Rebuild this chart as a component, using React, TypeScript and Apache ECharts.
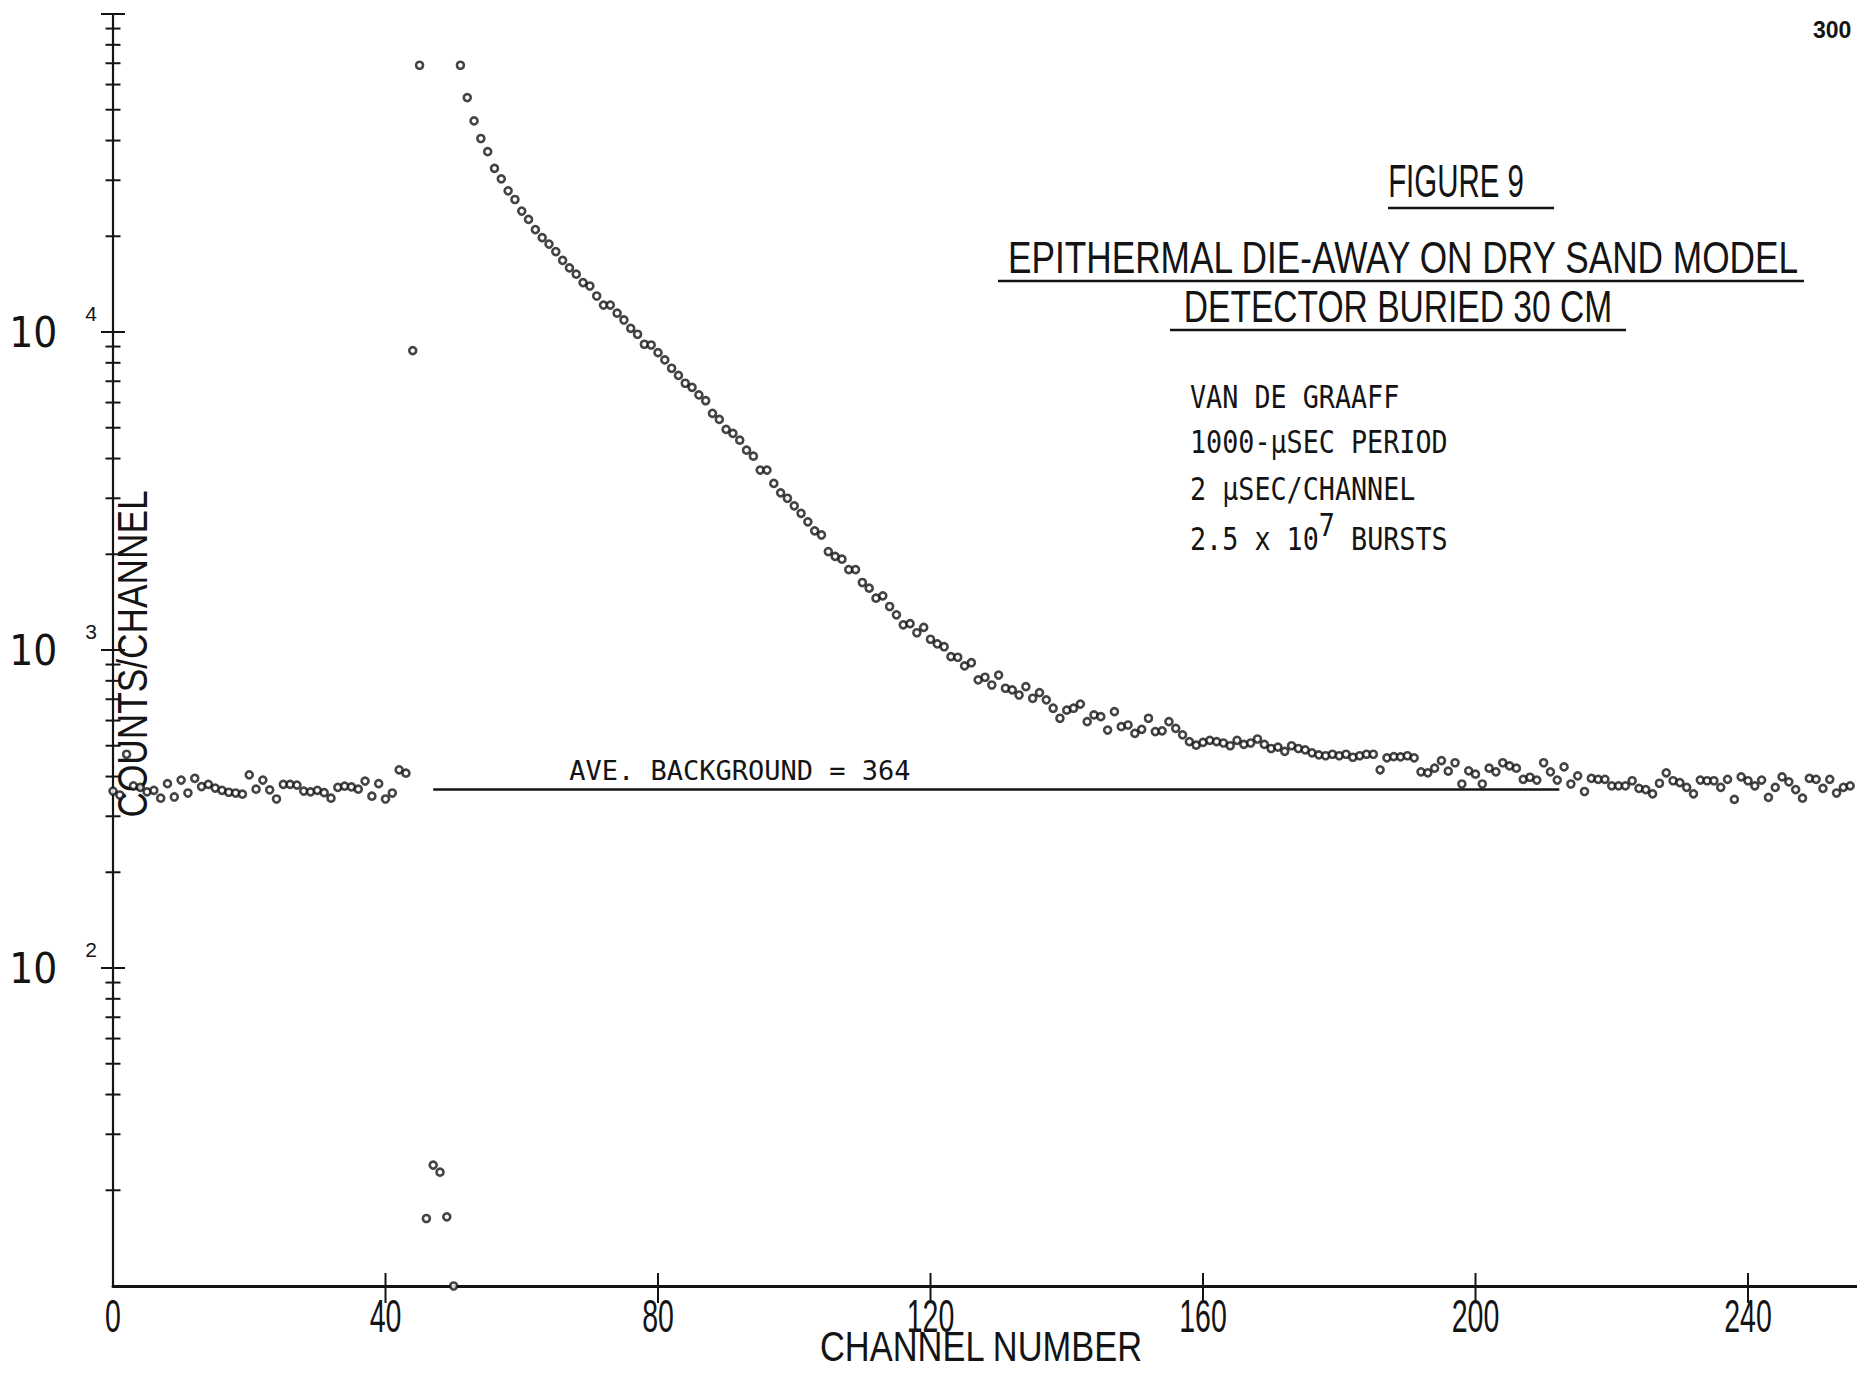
import React, { useEffect, useRef } from "react";
import * as echarts from "echarts";

// Counts per channel, channels 0-43 (background before the burst)
const PRE_BURST = [
  360, 350, 470, 374, 370, 358, 362, 342, 380, 345, 390, 355, 395, 372, 378, 368,
  362, 357, 355, 352, 405, 365, 390, 363, 340, 378, 378, 376, 360, 358, 362, 356,
  342, 370, 373, 371, 365, 387, 347, 380, 340, 355, 420, 410,
];
// Channels 44-51 (burst)
const BURST = [8740, 69000, 16.3, 24, 22.8, 16.5, 10, 69000];
// Channels 52-159 (epithermal die-away)
const DECAY = [
  54600, 46100, 40600, 36900, 32700, 30300, 27800, 26100,
  24000, 22600, 21000, 19800, 18900, 17900, 16800, 15900, 15200, 14300,
  13950, 12980, 12150, 12150, 11460, 10910, 10270, 9840, 9150, 9100,
  8610, 8170, 7690, 7300, 6900, 6700, 6340, 6080, 5550, 5310,
  4940, 4800, 4570, 4250, 4070, 3680, 3680, 3340, 3120, 3000,
  2840, 2690, 2530, 2370, 2300, 2040, 1970, 1930, 1790, 1790,
  1630, 1565, 1455, 1480, 1370, 1290, 1200, 1210, 1133, 1178,
  1081, 1045, 1024, 953, 949, 891, 912, 805, 821, 776,
  834, 758, 749, 722, 767, 705, 734, 697, 656, 610,
  647, 656, 676, 595, 625, 617, 560, 640, 574, 581,
  547, 563, 610, 554, 557, 595, 567, 541, 515, 502,
];
// Channels 160-188
const TAIL_A = [
  512, 520, 515, 510, 500, 520, 505, 510, 525, 505,
  490, 495, 480, 500, 490, 485, 475, 468, 465, 470,
  465, 470, 460, 465, 470, 470, 420, 458, 462,
];
// Channels 189-255
const TAIL_B = [
  461, 465, 458, 414, 411, 425, 449, 416, 442, 379,
  417, 407, 379, 425, 414, 442, 432, 425, 392, 398,
  390, 442, 414, 390, 429, 379, 402, 359, 395, 392,
  392, 374, 374, 374, 388, 367, 364, 353, 381, 411,
  388, 383, 370, 353, 390, 388, 388, 370, 392, 339,
  399, 388, 374, 390, 344, 370, 399, 385, 364, 342,
  395, 392, 367, 392, 355, 370, 374,
];
const COUNTS = [...PRE_BURST, ...BURST, ...DECAY, ...TAIL_A, ...TAIL_B];

const BACKGROUND = 364;
const BACKGROUND_FROM = 47;
const BACKGROUND_TO = 212.3;

const X_LABELS = [0, 40, 80, 120, 160, 200, 240];
const Y_MAJOR = [100, 1000, 10000, 100000];
const Y_DECADE_STARTS = [10, 100, 1000, 10000];
const Y_MINOR_STEPS = [2, 3, 4, 5, 6, 7, 8, 9];
const Y_LABELED = [100, 1000, 10000];

const TITLE = "FIGURE 9";
const SUBTITLE_1 = "EPITHERMAL DIE-AWAY ON DRY SAND MODEL";
const SUBTITLE_2 = "DETECTOR BURIED 30 CM";
const NOTES = ["VAN DE GRAAFF", "1000-\u00b5SEC PERIOD", "2 \u00b5SEC/CHANNEL"];
const PAGE_MARK = "300";

const INK = "#141414";
const NARROW = "'Liberation Sans Narrow', 'DejaVu Sans Condensed', 'Liberation Sans', sans-serif";
const SANS = "'Liberation Sans', Arial, sans-serif";
const MONO = "'DejaVu Sans Mono', 'Liberation Mono', monospace";

export default function App() {
  const ref = useRef<HTMLDivElement>(null);

  useEffect(() => {
    if (!ref.current) return;
    const chart = echarts.init(ref.current, undefined, { renderer: "svg" });

    const points = COUNTS.map((v, ch) => [ch, v]);

    // kind 0 = x tick with its label, 1 = major y tick, 2 = minor y tick
    const ticks: number[][] = [
      ...X_LABELS.map((c) => [c, 10, 0]),
      ...Y_MAJOR.map((v) => [0, v, 1]),
      ...Y_DECADE_STARTS.flatMap((d) => Y_MINOR_STEPS.map((k) => [0, k * d, 2])),
    ];

    const textStyle = (
      text: string,
      x: number,
      y: number,
      size: number,
      scaleX: number,
      font = SANS,
      align = "center"
    ) => ({
      type: "text",
      x,
      y,
      scaleX,
      silent: true,
      style: {
        text,
        fill: INK,
        font: `${size}px ${font}`,
        textAlign: align,
        textVerticalAlign: "middle",
      },
    });

    const rule = (x1: number, x2: number, y: number) => ({
      type: "line",
      silent: true,
      shape: { x1, y1: y, x2, y2: y },
      style: { stroke: INK, lineWidth: 2.5 },
    });

    chart.setOption({
      animation: false,
      backgroundColor: "#ffffff",
      grid: { left: 113, top: 14, right: -4, bottom: 87 },
      xAxis: {
        type: "value",
        min: 0,
        max: 256,
        interval: 40,
        axisLine: { show: true, lineStyle: { color: INK, width: 3 } },
        axisTick: { show: false },
        splitLine: { show: false },
        axisLabel: { show: false },
      },
      yAxis: {
        type: "log",
        logBase: 10,
        min: 10,
        max: 100000,
        splitNumber: 4,
        axisLine: { show: true, lineStyle: { color: INK, width: 2.2 } },
        axisTick: { show: false },
        splitLine: { show: false },
        axisLabel: {
          margin: 16,
          color: INK,
          formatter: (v: number) =>
            Y_LABELED.includes(Math.round(v))
              ? `{b|10}{e|${Math.round(Math.log10(v))}}`
              : "",
          rich: {
            b: { fontFamily: NARROW, fontSize: 42, color: INK },
            e: { fontFamily: SANS, fontSize: 21, color: INK, padding: [0, 0, 38, 28] },
          },
        },
      },
      series: [
        {
          type: "custom",
          silent: true,
          clip: false,
          z: 1,
          data: ticks,
          renderItem: (_params: any, api: any) => {
            const kind = api.value(2);
            const value = api.value(0);
            const p = api.coord([value, api.value(1)]);
            const style = { stroke: INK, lineWidth: 2 };
            if (kind === 0) {
              const children: any[] = [
                {
                  type: "text",
                  x: p[0],
                  y: p[1] + 30,
                  scaleX: 0.62,
                  style: {
                    text: String(value),
                    fill: INK,
                    font: `46px ${SANS}`,
                    textAlign: "center",
                    textVerticalAlign: "middle",
                    align: "center",
                    verticalAlign: "middle",
                  },
                },
              ];
              if (value > 0) {
                children.push({
                  type: "line",
                  shape: { x1: p[0], y1: p[1] - 13, x2: p[0], y2: p[1] + 17 },
                  style,
                });
              }
              return { type: "group", children };
            }
            const len = kind === 1 ? 12 : 7.5;
            return {
              type: "line",
              shape: { x1: p[0] - len, y1: p[1], x2: p[0] + len, y2: p[1] },
              style,
            };
          },
        },
        {
          type: "scatter",
          z: 3,
          clip: false,
          symbol: "circle",
          symbolSize: 7,
          itemStyle: { color: "#ffffff", borderColor: INK, borderWidth: 2.6 },
          data: points,
          markLine: {
            silent: true,
            symbol: "none",
            lineStyle: { color: INK, width: 2.5, type: "solid" },
            label: {
              show: true,
              position: "insideStartTop",
              distance: [136, 6],
              color: INK,
              fontFamily: MONO,
              fontSize: 27,
              formatter: () => `AVE. BACKGROUND = ${BACKGROUND}`,
            },
            data: [
              [
                { coord: [BACKGROUND_FROM, BACKGROUND] },
                { coord: [BACKGROUND_TO, BACKGROUND] },
              ],
            ],
          },
        },
      ],
      graphic: [
        {
          type: "text",
          x: 132,
          y: 654,
          rotation: Math.PI / 2,
          scaleX: 0.84,
          silent: true,
          style: {
            text: "COUNTS/CHANNEL",
            fill: INK,
            font: `42px ${SANS}`,
            textAlign: "center",
            textVerticalAlign: "middle",
          },
        },
        textStyle("CHANNEL NUMBER", 981, 1346, 42, 0.82),
        textStyle(TITLE, 1456, 181, 46, 0.64),
        rule(1388, 1554, 208),
        textStyle(SUBTITLE_1, 1403, 257, 45, 0.783),
        rule(998, 1804, 281),
        textStyle(SUBTITLE_2, 1398, 306, 45, 0.746),
        rule(1170, 1626, 330),
        textStyle(NOTES[0], 1190, 397, 32, 0.836, MONO, "left"),
        textStyle(NOTES[1], 1190, 442, 32, 0.836, MONO, "left"),
        textStyle(NOTES[2], 1190, 489, 32, 0.836, MONO, "left"),
        {
          type: "text",
          x: 1190,
          y: 539,
          scaleX: 0.836,
          silent: true,
          style: {
            text: "{a|2.5 x 10}{s|7}{a| BURSTS}",
            fill: INK,
            textAlign: "left",
            textVerticalAlign: "middle",
            rich: {
              a: { font: `32px ${MONO}`, fill: INK },
              s: { font: `32px ${MONO}`, fill: INK, padding: [0, 0, 28, 0] },
            },
          },
        },
        {
          type: "text",
          x: 1813,
          y: 30,
          silent: true,
          style: {
            text: PAGE_MARK,
            fill: INK,
            font: `bold 23px ${SANS}`,
            textAlign: "left",
            textVerticalAlign: "middle",
          },
        },
      ],
    });

    return () => chart.dispose();
  }, []);

  return (
    <div
      ref={ref}
      style={{ position: "absolute", left: 0, top: 0, width: 1857, height: 1373 }}
    />
  );
}
